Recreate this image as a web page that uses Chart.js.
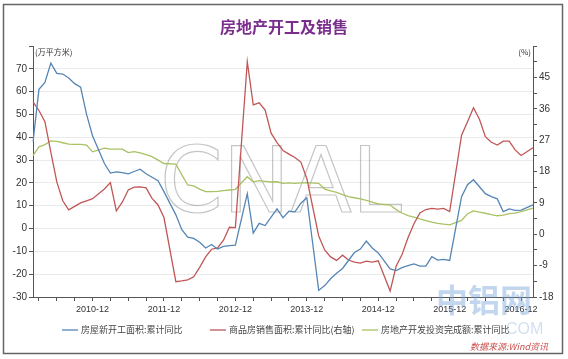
<!DOCTYPE html>
<html>
<head>
<meta charset="utf-8">
<script src="https://cdn.jsdelivr.net/npm/chart.js@4.4.1/dist/chart.umd.min.js"></script>
<style>
  body { margin: 0; background: #fff; }
  #wrap { width: 568px; height: 359px; }
</style>
</head>
<body>
<div id="wrap"><canvas id="chart" width="568" height="359"></canvas></div>
<script>
// months 2010-02 .. 2017-02 (January has no cumulative figure)
const months = []
for (let y = 2010; y <= 2017; y++) {
  for (let m = 1; m <= 12; m++) {
    if (y === 2010 && m < 2) continue
    if (y === 2017 && m > 2) break
    months.push(y + '-' + String(m).padStart(2, '0'))
  }
}

// 房屋新开工面积:累计同比 (left axis)
const newStarts = [
  38, 61, 64, 72.5, 68, 67.7, 66, 63.5, 62, 50, 40.7,
  null, 28.5, 24.3, 24.8, 24.5, 24, 25, 26, 24, 22.5, 21, 16.2,
  null, 6, -0.5, -3.8, -4.3, -6, -8.5, -7, -9, -7.8, -7.5, -7.3,
  null, 15.3, -2, 2.3, 1.3, 5, 8.6, 4.8, 7.6, 7.3, 11.1, 13.5,
  null, -27.1, -25, -22, -19.6, -17.5, -14, -10.5, -9, -5.5, -8.5, -10.7,
  null, -17.7, -18.4, -17.1, -16.3, -15.5, -16.5, -16.5, -12.3, -13.8, -13.5, -14,
  null, 14, 19.2, 21.4, 18.3, 15.3, 14, 13, 7.4, 8.6, 8, 8.1,
  null, 10.4
]

// 商品房销售面积:累计同比 (right axis)
const salesArea = [
  38, 35.5, 32.3, 23.5, 15, 9.6, 7, 8, 9, 9.6, 10.2,
  null, 13, 14.8, 6.7, 9.2, 12.7, 13.5, 13.6, 13.3, 10.3, 8.4, 4.8,
  null, -13.6, -13.4, -13.1, -12.2, -9.5, -6.5, -4.3, -3.9, -1.7, 2, 1.9,
  null, 49.5, 37.1, 37.7, 35.6, 29, 26.3, 24, 23, 22, 20.7, 16,
  null, -0.5, -4.5, -6.5, -7.5, -6, -7.4, -8, -8.3, -7.7, -8, -7.6,
  null, -16.3, -9.2, -5.8, -1, 3, 6.1, 7.1, 7.4, 7.2, 7.4, 6.5,
  null, 28.4, 32.3, 36.3, 33, 28, 26.4, 25.6, 26.7, 26.7, 24.2, 22.6,
  null, 24.8
]

// 房地产开发投资完成额:累计同比 (left axis)
const investment = [
  32, 35.8, 36.8, 38.4, 38.2, 37.6, 37, 36.9, 36.9, 36.6, 33.6,
  null, 35.2, 34.8, 34.8, 34.8, 33.3, 33.7, 33.2, 32.4, 31.5, 30, 28.5,
  null, 28.2, 23.5, 19.1, 18.7, 17.3, 16.2, 16.2, 16.3, 16.6, 16.9, 17.2,
  null, 22.7, 20.5, 21, 20.7, 20.4, 20.5, 19.8, 20, 19.8, 20, 20.1,
  null, 19.8, 17.3, 16.5, 15.8, 14.9, 14, 13.5, 13, 12.3, 11.6, 10.8,
  null, 10.3, 8.3, 6.8, 5.7, 5, 4.2, 3.5, 2.8, 2.3, 1.9, 1.6,
  null, 3.6, 6.5, 7.7, 7.2, 6.7, 6.1, 5.6, 5.9, 6.5, 6.8, 7.4,
  null, 9
]

const seriesNames = ['房屋新开工面积:累计同比', '商品房销售面积:累计同比(右轴)', '房地产开发投资完成额:累计同比']
const seriesColors = ['#5585b5', '#c05757', '#a8c264']

const leftMin = -30, leftMax = 80
const rightMin = -18, rightMax = 54

const numFont = '"Liberation Sans", "Noto Sans CJK SC", sans-serif'
const cnFont = '"Noto Sans CJK SC", sans-serif'

const decorations = {
  id: 'decorations',
  beforeDatasetsDraw(chart) {
    const ctx = chart.ctx
    ctx.save()
    // CNAL watermark
    ctx.font = '90px "DejaVu Sans"'
    ctx.strokeStyle = 'rgba(150,150,150,0.55)'
    ctx.lineWidth = 1.2
    ctx.textBaseline = 'alphabetic'
    ctx.textAlign = 'left'
    ctx.strokeText('CNAL', 160, 212)
    ctx.restore()
  },
  afterDraw(chart) {
    const ctx = chart.ctx
    const area = chart.chartArea
    ctx.save()

    // title
    ctx.fillStyle = '#7b2d8e'
    ctx.font = 'bold 16px ' + cnFont
    ctx.textAlign = 'center'
    ctx.textBaseline = 'middle'
    ctx.fillText('房地产开工及销售', 284, 27)

    // axis units
    ctx.fillStyle = '#333'
    ctx.font = '8px ' + cnFont
    ctx.textAlign = 'left'
    ctx.fillText('(万平方米)', area.left + 2, 52)
    ctx.textAlign = 'right'
    ctx.fillText('(%)', area.right - 2, 52)

    // legend
    const legendX = [62, 210, 362]
    ctx.font = '9px ' + cnFont
    ctx.textAlign = 'left'
    seriesNames.forEach((name, i) => {
      ctx.strokeStyle = seriesColors[i]
      ctx.lineWidth = 1.3
      ctx.beginPath()
      ctx.moveTo(legendX[i], 330)
      ctx.lineTo(legendX[i] + 16, 330)
      ctx.stroke()
      ctx.fillStyle = '#444'
      ctx.fillText(name, legendX[i] + 19, 330)
    })

    // source
    ctx.fillStyle = '#c9504d'
    ctx.font = 'italic 9px ' + cnFont
    ctx.textAlign = 'right'
    ctx.fillText('数据来源:Wind资讯', 548, 347)

    // site watermark
    ctx.fillStyle = 'rgba(120,165,215,0.45)'
    ctx.font = 'bold 32px ' + cnFont
    ctx.textAlign = 'left'
    ctx.fillText('中铝网', 436, 300)
    ctx.fillStyle = 'rgba(120,165,215,0.35)'
    ctx.font = '16px ' + numFont
    ctx.fillText('COM', 506, 330)

    // frame
    ctx.strokeStyle = '#666'
    ctx.lineWidth = 1.5
    ctx.strokeRect(3.5, 4.5, 559, 349)
    ctx.restore()
  }
}

const makeSet = (i, data, axis) => ({
  label: seriesNames[i],
  data: data,
  yAxisID: axis,
  borderColor: seriesColors[i],
  backgroundColor: seriesColors[i],
  borderWidth: 1.3,
  pointRadius: 0,
  tension: 0,
  spanGaps: true
})

new Chart(document.getElementById('chart'), {
  type: 'line',
  data: {
    labels: months,
    datasets: [
      makeSet(0, newStarts, 'y'),
      makeSet(1, salesArea, 'y1'),
      makeSet(2, investment, 'y')
    ]
  },
  options: {
    responsive: false,
    animation: false,
    layout: { padding: { top: 46, left: 0, right: 0, bottom: 0 } },
    plugins: {
      legend: { display: false },
      title: { display: false },
      tooltip: { enabled: false }
    },
    scales: {
      x: {
        type: 'category',
        offset: false,
        border: { color: '#555', width: 1 },
        grid: {
          drawOnChartArea: false,
          tickLength: 4,
          tickColor: (c) => {
            const m = months[c.index] ? months[c.index].slice(5) : ''
            return ['03', '06', '09', '12'].includes(m) ? '#555' : 'rgba(0,0,0,0)'
          }
        },
        ticks: {
          autoSkip: false,
          maxRotation: 0,
          padding: 3,
          color: '#333',
          font: { family: numFont, size: 9 },
          callback: (v, idx) => months[idx].endsWith('-12') ? months[idx] : ''
        },
        afterFit: (s) => { s.height = 62 }
      },
      y: {
        position: 'left',
        min: leftMin,
        max: leftMax,
        border: { color: '#555', width: 1 },
        grid: {
          color: (c) => (c.tick && c.tick.value % 10 === 0 && c.tick.value > leftMin && c.tick.value < leftMax) ? '#ebebeb' : 'rgba(0,0,0,0)',
          tickColor: '#555',
          tickLength: 4
        },
        ticks: {
          stepSize: 5,
          padding: 2,
          color: '#333',
          font: { family: numFont, size: 10 },
          callback: (v) => (v % 10 === 0 && v !== leftMax) ? v : ''
        },
        afterFit: (s) => { s.width = 33 }
      },
      y1: {
        position: 'right',
        min: rightMin,
        max: rightMax,
        border: { color: '#555', width: 1 },
        grid: {
          drawOnChartArea: false,
          tickColor: '#555',
          tickLength: 4
        },
        ticks: {
          stepSize: 4.5,
          padding: 2,
          color: '#333',
          font: { family: numFont, size: 10 },
          callback: (v) => (Math.abs(v % 9) < 1e-6 && v !== rightMax) ? v : ''
        },
        afterFit: (s) => { s.width = 35 }
      }
    }
  },
  plugins: [decorations]
})
</script>
</body>
</html>
